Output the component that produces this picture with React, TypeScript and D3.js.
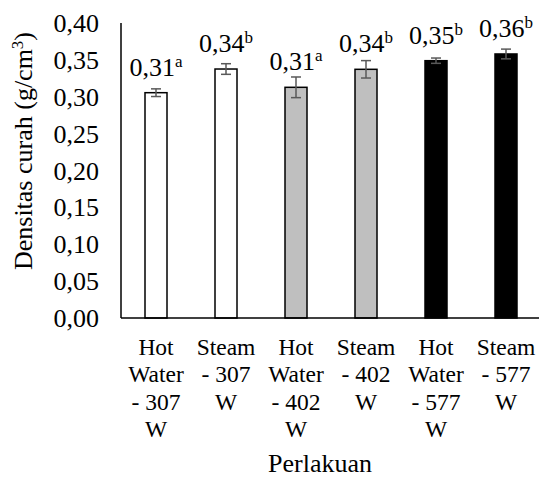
import * as d3 from "d3";

const categories = [
  ["Hot", "Water", "- 307", "W"],
  ["Steam", "- 307", "W"],
  ["Hot", "Water", "- 402", "W"],
  ["Steam", "- 402", "W"],
  ["Hot", "Water", "- 577", "W"],
  ["Steam", "- 577", "W"],
];
const values = [0.3055, 0.3376, 0.3128, 0.3372, 0.3489, 0.358];
const errors = [0.0052, 0.0072, 0.014, 0.0118, 0.0036, 0.0066];
const labels = ["0,31", "0,34", "0,31", "0,34", "0,35", "0,36"];
const letters = ["a", "b", "a", "b", "b", "b"];
const fills = ["#ffffff", "#ffffff", "#bfbfbf", "#bfbfbf", "#000000", "#000000"];
const yTicks = [0, 0.05, 0.1, 0.15, 0.2, 0.25, 0.3, 0.35, 0.4];

const width = 539;
const height = 477;
const margin = { top: 23, right: -2, bottom: 159, left: 121 };
const ff = { fontFamily: "Liberation Serif" };

const fmt = d3.formatLocale({ decimal: ",", thousands: ".", grouping: [3], currency: ["", ""] }).format(".2f");

export default function App() {
  const innerH = height - margin.top - margin.bottom;
  const x = d3
    .scaleBand<number>()
    .domain(values.map((_, i) => i))
    .range([margin.left, width - margin.right])
    .paddingInner(0)
    .paddingOuter(0);
  const y = d3.scaleLinear().domain([0, 0.4]).range([margin.top + innerH, margin.top]);
  const barW = 22;
  const capW = 10;

  return (
    <svg width={width} height={height} style={{ position: "absolute", left: 0, top: 0, background: "#fff" }}>
      {/* y tick labels */}
      {yTicks.map((t) => (
        <text key={t} x={margin.left - 22} y={y(t)} dy="0.35em" textAnchor="end" fontSize={26} style={ff}>
          {fmt(t)}
        </text>
      ))}

      {/* bars */}
      {values.map((v, i) => {
        const cx = x(i)! + x.bandwidth() / 2;
        return (
          <g key={i}>
            <rect
              x={cx - barW / 2}
              y={y(v)}
              width={barW}
              height={y(0) - y(v)}
              fill={fills[i]}
              stroke="#000"
              strokeWidth={1.5}
            />
            <g stroke="#595959" strokeWidth={1.5}>
              <line x1={cx} x2={cx} y1={y(v + errors[i])} y2={y(v - errors[i])} />
              <line x1={cx - capW / 2} x2={cx + capW / 2} y1={y(v + errors[i])} y2={y(v + errors[i])} />
              <line x1={cx - capW / 2} x2={cx + capW / 2} y1={y(v - errors[i])} y2={y(v - errors[i])} />
            </g>
            <text x={cx} y={y(v) - 17} textAnchor="middle" fontSize={26} style={ff}>
              {labels[i]}
              <tspan fontSize={17} dy={-9}>
                {letters[i]}
              </tspan>
            </text>
            <text textAnchor="middle" fontSize={23.5} style={ff}>
              {categories[i].map((line, j) => (
                <tspan key={j} x={cx} y={355 + j * 27.3}>
                  {line}
                </tspan>
              ))}
            </text>
          </g>
        );
      })}

      {/* axes */}
      <line x1={margin.left} x2={margin.left} y1={margin.top} y2={y(0)} stroke="#000" strokeWidth={1.5} />
      <line x1={margin.left} x2={width} y1={y(0)} y2={y(0)} stroke="#000" strokeWidth={1.5} />

      {/* titles */}
      <text transform={`translate(32,151) rotate(-90)`} textAnchor="middle" fontSize={26} style={ff}>
        Densitas curah (g/cm
        <tspan fontSize={17} dy={-9}>
          3
        </tspan>
        <tspan dy={9}>)</tspan>
      </text>
      <text x={320} y={472} textAnchor="middle" fontSize={26} style={ff}>
        Perlakuan
      </text>
    </svg>
  );
}
